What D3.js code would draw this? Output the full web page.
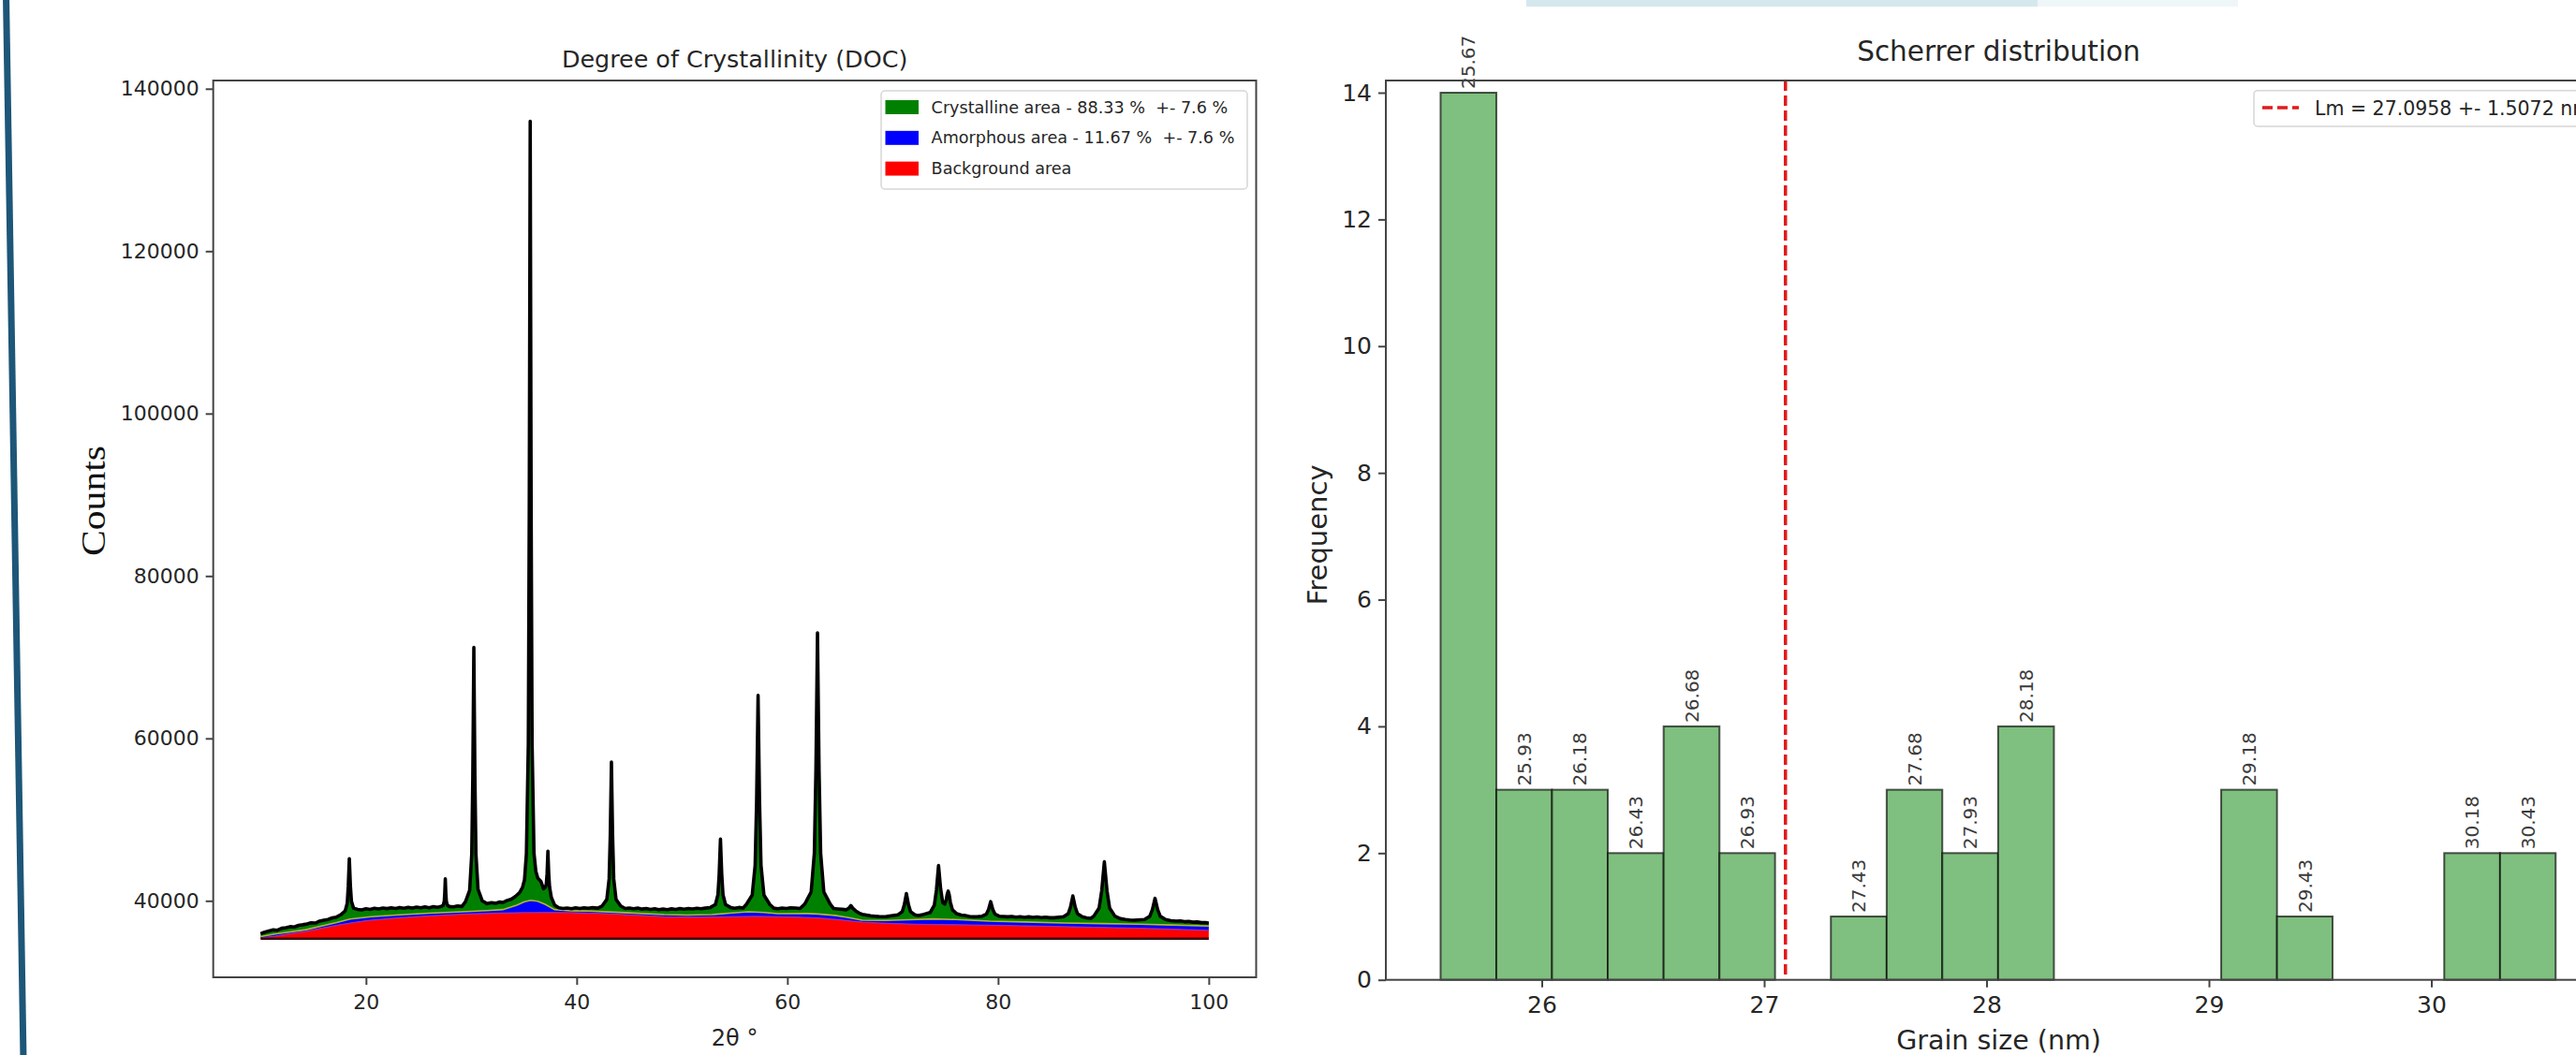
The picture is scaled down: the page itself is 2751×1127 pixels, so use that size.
<!DOCTYPE html>
<html>
<head>
<meta charset="utf-8">
<script src="https://cdn.jsdelivr.net/npm/d3@7"></script>
<style>
  html, body { margin: 0; padding: 0; background: #fff; overflow: hidden; }
  svg { display: block; }
  text { font-family: "DejaVu Sans", sans-serif; fill: #262626; }
</style>
</head>
<body>
<svg id="slide" width="2751" height="1127"></svg>
<script>
// ---- Degree of Crystallinity (left panel) ----
// measured pattern, [2θ, counts]
const xrd_pattern = [
  [10.0, 35950], [10.4, 36150], [10.8, 36300], [11.2, 36420], [11.6, 36380], [12.0, 36620],
  [12.4, 36700], [12.8, 36820], [13.2, 36780], [13.6, 36980], [14.0, 37050], [14.4, 37150],
  [14.8, 37300], [15.2, 37260], [15.6, 37500], [16.0, 37620], [16.4, 37700], [16.8, 37900],
  [17.2, 38000], [17.62, 38300], [18.02, 38750], [18.22, 39700], [18.32, 41800], [18.42, 45200],
  [18.52, 41900], [18.62, 39950], [18.82, 39100], [19.22, 38950], [19.6, 38880], [20.0, 39020],
  [20.4, 38950], [20.8, 39080], [21.2, 38990], [21.6, 39120], [22.0, 39040], [22.4, 39150],
  [22.8, 39060], [23.2, 39180], [23.6, 39090], [24.0, 39200], [24.4, 39100], [24.8, 39220],
  [25.2, 39130], [25.6, 39250], [26.0, 39150], [26.4, 39280], [26.8, 39200], [27.13, 39300],
  [27.33, 39450], [27.43, 39940], [27.48, 40980], [27.53, 42700], [27.58, 40980], [27.63, 39940],
  [27.73, 39450], [27.93, 39300], [28.3, 39250], [28.7, 39380], [29.1, 39300], [29.44, 39880],
  [29.84, 41280], [30.04, 45760], [30.14, 55300], [30.24, 71200], [30.34, 55300], [30.44, 45760],
  [30.64, 41400], [31.04, 40000], [31.5, 39650], [31.9, 39780], [32.3, 39700], [32.7, 39850],
  [33.0, 39800], [33.4, 40050], [33.8, 40200], [34.2, 40550], [34.6, 41040], [34.87, 41700],
  [35.05, 42600], [35.23, 45850], [35.41, 59360], [35.5, 88100], [35.59, 136000], [35.68, 88100],
  [35.77, 59360], [35.95, 45850], [36.13, 43600], [36.31, 42800], [36.6, 42400], [36.85, 41500],
  [37.03, 41700], [37.11, 42000], [37.19, 43300], [37.27, 46100], [37.35, 43300], [37.43, 41700],
  [37.6, 40400], [37.9, 39500], [38.3, 39150], [38.7, 39050], [39.1, 39120], [39.5, 39030],
  [39.9, 39140], [40.3, 39060], [40.7, 39150], [41.1, 39080], [41.5, 39160], [42.0, 39100],
  [42.42, 39370], [42.86, 40160], [43.08, 42700], [43.19, 48100], [43.3, 57100], [43.41, 48100],
  [43.52, 42700], [43.74, 40160], [44.18, 39370], [44.6, 39050], [45.0, 39120], [45.4, 39030],
  [45.8, 39100], [46.2, 38980], [46.6, 39060], [47.0, 38950], [47.4, 39020], [47.8, 38900],
  [48.2, 38980], [48.6, 38920], [49.0, 39010], [49.4, 38940], [49.8, 39050], [50.2, 38970],
  [50.6, 39060], [51.0, 39000], [51.4, 39080], [51.8, 39020], [52.2, 39100], [52.69, 39180],
  [53.17, 39550], [53.41, 40760], [53.53, 43330], [53.65, 47600], [53.77, 43330], [53.89, 40760],
  [54.13, 39550], [54.61, 39180], [55.0, 39080], [55.4, 39180], [55.8, 39120], [56.1, 39540],
  [56.66, 40690], [56.94, 44380], [57.08, 52230], [57.22, 65300], [57.36, 52230], [57.5, 44380],
  [57.78, 40690], [58.34, 39540], [58.7, 39100], [59.1, 39030], [59.5, 39120], [59.9, 39050],
  [60.3, 39140], [60.8, 39110], [61.2, 39060], [61.66, 39610], [62.26, 41100], [62.56, 45880],
  [62.71, 56050], [62.86, 73000], [63.01, 56050], [63.16, 45880], [63.46, 41100], [64.06, 39610],
  [64.4, 39050], [64.8, 39000], [65.2, 38950], [65.6, 38900], [65.85, 39100], [66.03, 39420],
  [66.2, 39100], [66.5, 38750], [66.8, 38500], [67.1, 38340], [67.5, 38250], [67.9, 38150],
  [68.3, 38100], [68.7, 38060], [69.1, 38050], [69.4, 38060], [69.7, 38140], [70.5, 38270],
  [70.9, 38660], [71.1, 39500], [71.3, 40900], [71.5, 39500], [71.7, 38660], [72.1, 38270],
  [72.4, 38200], [72.75, 38260], [73.55, 38560], [73.95, 39460], [74.15, 41340], [74.35, 44350],
  [74.55, 41465], [74.75, 39780], [74.95, 39610], [75.07, 40090], [75.17, 40800], [75.27, 41200],
  [75.37, 40700], [75.47, 39850], [75.67, 38890], [76.07, 38410], [76.5, 38250], [76.87, 38200],
  [77.3, 38080], [77.7, 38030], [78.1, 38060], [78.5, 38110], [78.9, 38380], [79.1, 38950],
  [79.3, 39900], [79.5, 38950], [79.7, 38380], [80.1, 38110], [80.9, 38030], [81.3, 38080],
  [81.7, 37990], [82.1, 38050], [82.5, 37960], [82.9, 38030], [83.3, 37950], [83.7, 38010],
  [84.1, 37930], [84.5, 37990], [84.9, 37920], [85.34, 37920], [86.22, 38040], [86.66, 38420],
  [86.88, 39240], [87.1, 40600], [87.32, 39240], [87.54, 38420], [87.98, 38040], [88.4, 37900],
  [88.8, 37850], [89.09, 38120], [89.59, 39120], [89.84, 41250], [90.09, 44800], [90.34, 41250],
  [90.59, 39120], [91.09, 38120], [91.6, 37800], [92.1, 37700], [92.5, 37650], [92.9, 37620],
  [93.9, 37700], [94.4, 38090], [94.65, 38920], [94.9, 40300], [95.15, 38920], [95.4, 38090],
  [95.9, 37700], [96.4, 37560], [96.9, 37500], [97.3, 37520], [97.7, 37430], [98.1, 37460],
  [98.5, 37370], [98.9, 37400], [99.3, 37310], [99.7, 37330], [100.0, 37250],
];

// fitted amorphous hump (top of the blue area)
const amorphous_curve = [
  [10.0, 35600], [11.5, 35950], [14.3, 36450], [17.3, 37350], [18.5, 37750], [20.5, 38050],
  [23.2, 38270], [26.0, 38480], [29.1, 38650], [31.5, 38800], [33.0, 38920], [34.3, 39450],
  [35.0, 39850], [35.6, 40070], [36.3, 39950], [37.0, 39570], [37.9, 38920], [39.5, 38780],
  [41.2, 38730], [44.5, 38550], [48.3, 38300], [50.5, 38250], [52.8, 38300], [54.8, 38500],
  [56.3, 38650], [57.8, 38560], [59.1, 38420], [61.9, 38430], [62.9, 38380], [64.5, 38200],
  [65.7, 37960], [67.1, 37620], [69.3, 37580], [71.5, 37680], [73.8, 37770], [76.0, 37700],
  [79.2, 37500], [82.5, 37400], [86.3, 37270], [90.0, 37200], [93.4, 37120], [96.5, 37020],
  [100.0, 36900],
];

// background (top of the red area)
const background_curve = [
  [10.0, 35400], [11.4, 35650], [12.8, 35950], [14.3, 36230], [15.8, 36620], [17.3, 37000],
  [18.8, 37320], [20.2, 37580], [22.4, 37830], [24.7, 38040], [27.0, 38200], [29.1, 38340],
  [32.0, 38460], [35.0, 38540], [37.5, 38560], [39.5, 38540], [41.8, 38460], [43.9, 38340],
  [46.0, 38200], [48.3, 38040], [51.0, 37980], [54.5, 38040], [57.0, 38080], [59.1, 38040],
  [61.0, 37980], [62.9, 37880], [65.0, 37650], [67.1, 37380], [69.5, 37220], [72.1, 37120],
  [75.5, 37060], [79.2, 37000], [82.8, 36900], [86.3, 36810], [90.0, 36710], [93.4, 36610],
  [96.8, 36490], [100.0, 36350],
];
const background_floor = 35350;

const doc_x_ticks = [20, 40, 60, 80, 100];
const doc_y_ticks = [40000, 60000, 80000, 100000, 120000, 140000];
const doc_legend_labels = [
  "Crystalline area - 88.33 %  +- 7.6 %",
  "Amorphous area - 11.67 %  +- 7.6 %",
  "Background area",
];
const doc_colors = { crystalline: "#008000", amorphous: "#0000ff", background: "#ff0000" };

// ---- Scherrer distribution (right panel) ----
const bin_edges = [
  25.545, 25.796, 26.046, 26.297, 26.548, 26.799, 27.049, 27.300, 27.551, 27.801, 28.052,
  28.303, 28.554, 28.804, 29.055, 29.306, 29.556, 29.807, 30.058, 30.309, 30.559,
];
const bin_counts = [14, 3, 3, 2, 4, 2, 0, 1, 3, 2, 4, 0, 0, 0, 3, 1, 0, 0, 2, 2];
const bin_labels = [
  "25.67", "25.93", "26.18", "26.43", "26.68", "26.93", "27.18", "27.43", "27.68", "27.93",
  "28.18", "28.43", "28.68", "28.93", "29.18", "29.43", "29.68", "29.93", "30.18", "30.43",
];
const mean_grain = 27.0958;
const mean_label = "Lm = 27.0958 +- 1.5072 nm";
const scherrer_x_ticks = [26, 27, 28, 29, 30];
const scherrer_y_ticks = [0, 2, 4, 6, 8, 10, 12, 14];

const svg = d3.select("#slide");

// slide decorations
svg.append("rect").attr("x", 1630).attr("y", 0).attr("width", 546).attr("height", 7).attr("fill", "#d4e8ee");
svg.append("rect").attr("x", 2176).attr("y", 0).attr("width", 214).attr("height", 7).attr("fill", "#eef6f8");
svg.append("line")
  .attr("x1", 6.5).attr("y1", -4).attr("x2", 25).attr("y2", 1131)
  .attr("stroke", "#1d5678").attr("stroke-width", 7);
svg.append("text")
  .attr("x", 376).attr("y", -8)
  .style("font-family", "'Liberation Serif', serif").style("font-weight", "bold")
  .attr("font-size", 60).style("fill", "#111").text("]");

function style_axis(g, font_size) {
  g.select(".domain").remove();
  g.attr("font-family", "DejaVu Sans").attr("font-size", font_size);
  g.selectAll(".tick line").attr("stroke", "#444").attr("stroke-width", 2);
}

// ================= left panel =================
const doc = { left: 227.7, right: 1341.5, top: 86, bottom: 1044 };
const xL = d3.scaleLinear().domain([5.5, 104.5]).range([doc.left, doc.right]);
const yL = d3.scaleLinear().domain([40000, 140000]).range([962.3, 94.8]);

const doc_g = svg.append("g");
const line_L = d3.line().x((d) => xL(d[0])).y((d) => yL(d[1]));
const pattern_sorted = xrd_pattern.slice().sort((a, b) => a[0] - b[0]);

doc_g.append("path")
  .attr("d", d3.area().x((d) => xL(d[0])).y0(yL(background_floor)).y1((d) => yL(d[1]))(background_curve))
  .attr("fill", doc_colors.background);

doc_g.append("path")
  .attr("d", line_L(amorphous_curve.concat(background_curve.slice().reverse())) + "Z")
  .attr("fill", doc_colors.amorphous);

doc_g.append("path")
  .attr("d", line_L(pattern_sorted.concat(amorphous_curve.slice().reverse())) + "Z")
  .attr("fill", doc_colors.crystalline);

doc_g.append("path")
  .attr("d", line_L(background_curve))
  .attr("fill", "none").attr("stroke", "#9b2fa6").attr("stroke-width", 1.3);

doc_g.append("path")
  .attr("d", line_L(amorphous_curve))
  .attr("fill", "none").attr("stroke", "#b8b23a").attr("stroke-width", 1.6);

doc_g.append("line")
  .attr("x1", xL(10)).attr("x2", xL(100))
  .attr("y1", yL(background_floor)).attr("y2", yL(background_floor))
  .attr("stroke", "#3a0808").attr("stroke-width", 2.5);

doc_g.append("path")
  .attr("d", line_L(pattern_sorted))
  .attr("fill", "none").attr("stroke", "#000").attr("stroke-width", 3.6)
  .attr("stroke-linejoin", "round");

doc_g.append("rect")
  .attr("x", doc.left).attr("y", doc.top)
  .attr("width", doc.right - doc.left).attr("height", doc.bottom - doc.top)
  .attr("fill", "none").attr("stroke", "#444").attr("stroke-width", 2);

doc_g.append("g")
  .attr("transform", `translate(0,${doc.bottom})`)
  .call(d3.axisBottom(xL).tickValues(doc_x_ticks).tickSize(8).tickPadding(10).tickFormat(d3.format("d")))
  .call(style_axis, 22);

doc_g.append("g")
  .attr("transform", `translate(${doc.left},0)`)
  .call(d3.axisLeft(yL).tickValues(doc_y_ticks).tickSize(8).tickPadding(7).tickFormat(d3.format("d")))
  .call(style_axis, 22);

doc_g.append("text")
  .attr("x", (doc.left + doc.right) / 2).attr("y", 71.5)
  .attr("text-anchor", "middle").attr("font-size", 25.4)
  .text("Degree of Crystallinity (DOC)");

doc_g.append("text")
  .attr("x", (doc.left + doc.right) / 2).attr("y", 1117)
  .attr("text-anchor", "middle").attr("font-size", 24)
  .text("2θ °");

doc_g.append("text")
  .attr("transform", "translate(112,535) rotate(-90)")
  .attr("text-anchor", "middle").attr("font-size", 36)
  .attr("textLength", 118).attr("lengthAdjust", "spacingAndGlyphs")
  .style("font-family", "'Liberation Serif', serif").style("fill", "#111")
  .text("Counts");

// legend
const legend_L = doc_g.append("g");
legend_L.append("rect")
  .attr("x", 941).attr("y", 97).attr("width", 391).attr("height", 105)
  .attr("rx", 4).attr("fill", "#fff").attr("stroke", "#d6d6d6").attr("stroke-width", 1.5);
const legend_colors = [doc_colors.crystalline, doc_colors.amorphous, doc_colors.background];
doc_legend_labels.forEach((label, i) => {
  const y = 107 + i * 32.8;
  legend_L.append("rect")
    .attr("x", 945.5).attr("y", y).attr("width", 35.5).attr("height", 15)
    .attr("fill", legend_colors[i]);
  legend_L.append("text")
    .attr("x", 994.6).attr("y", y + 13.5)
    .attr("font-size", 17.6).style("white-space", "pre")
    .text(label);
});

// ================= right panel =================
const sch = { left: 1480, right: 2789, top: 86, bottom: 1046.7 };
const xR = d3.scaleLinear().domain([26, 30]).range([1646.5, 2596.5]);
const yR = d3.scaleLinear().domain([0, 14]).range([sch.bottom, 99]);

const sch_g = svg.append("g");

const hist_bins = bin_counts
  .map((count, i) => ({ x0: bin_edges[i], x1: bin_edges[i + 1], count, label: bin_labels[i] }))
  .filter((d) => d.count > 0);

sch_g.selectAll("rect.bin")
  .data(hist_bins)
  .enter()
  .append("rect")
  .classed("bin", true)
  .attr("x", (d) => xR(d.x0))
  .attr("width", (d) => xR(d.x1) - xR(d.x0))
  .attr("y", (d) => yR(d.count))
  .attr("height", (d) => yR(0) - yR(d.count))
  .attr("fill", "#7fbf7f")
  .attr("stroke", "rgba(0,0,0,0.65)")
  .attr("stroke-width", 2);

sch_g.selectAll("text.bin_label")
  .data(hist_bins)
  .enter()
  .append("text")
  .classed("bin_label", true)
  .attr("transform", (d) => `translate(${(xR(d.x0) + xR(d.x1)) / 2 + 7.2},${yR(d.count) - 4}) rotate(-90)`)
  .attr("font-size", 20)
  .style("fill", "#3c3c3c")
  .text((d) => d.label);

sch_g.append("line")
  .attr("x1", xR(mean_grain)).attr("x2", xR(mean_grain))
  .attr("y1", sch.top).attr("y2", sch.bottom)
  .attr("stroke", "#e01b1b").attr("stroke-width", 3.5).attr("stroke-dasharray", "11,5");

sch_g.append("rect")
  .attr("x", sch.left).attr("y", sch.top)
  .attr("width", sch.right - sch.left).attr("height", sch.bottom - sch.top)
  .attr("fill", "none").attr("stroke", "#444").attr("stroke-width", 2);

sch_g.append("g")
  .attr("transform", `translate(0,${sch.bottom})`)
  .call(d3.axisBottom(xR).tickValues(scherrer_x_ticks).tickSize(8).tickPadding(10).tickFormat(d3.format("d")))
  .call(style_axis, 25);

sch_g.append("g")
  .attr("transform", `translate(${sch.left},0)`)
  .call(d3.axisLeft(yR).tickValues(scherrer_y_ticks).tickSize(8).tickPadding(7).tickFormat(d3.format("d")))
  .call(style_axis, 25);

sch_g.append("text")
  .attr("x", (sch.left + sch.right) / 2).attr("y", 65)
  .attr("text-anchor", "middle").attr("font-size", 29.5)
  .text("Scherrer distribution");

sch_g.append("text")
  .attr("x", (sch.left + sch.right) / 2).attr("y", 1120.5)
  .attr("text-anchor", "middle").attr("font-size", 28.5)
  .text("Grain size (nm)");

sch_g.append("text")
  .attr("transform", `translate(1417,${(sch.top + sch.bottom) / 2 + 5}) rotate(-90)`)
  .attr("text-anchor", "middle").attr("font-size", 29)
  .text("Frequency");

const legend_R = sch_g.append("g");
legend_R.append("rect")
  .attr("x", 2407).attr("y", 96.7).attr("width", 400).attr("height", 38.3)
  .attr("rx", 4).attr("fill", "#fff").attr("stroke", "#d6d6d6").attr("stroke-width", 1.5);
legend_R.append("line")
  .attr("x1", 2416).attr("x2", 2455).attr("y1", 115).attr("y2", 115)
  .attr("stroke", "#e01b1b").attr("stroke-width", 3.5).attr("stroke-dasharray", "11,5");
legend_R.append("text")
  .attr("x", 2472).attr("y", 122.7).attr("font-size", 20.5)
  .text(mean_label);
</script>
</body>
</html>
